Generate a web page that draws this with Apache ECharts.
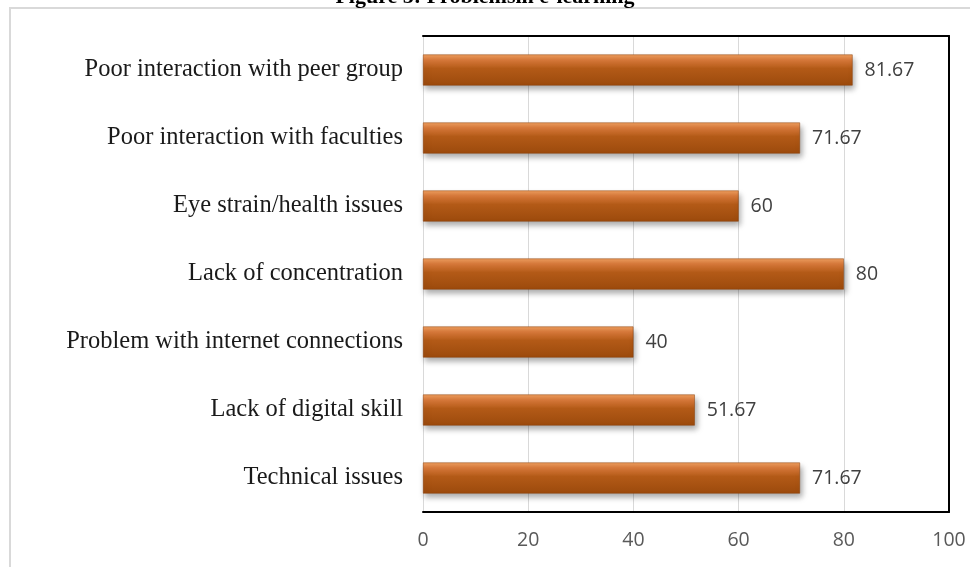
<!DOCTYPE html>
<html>
<head>
<meta charset="utf-8">
<script src="https://cdn.jsdelivr.net/npm/echarts@6/dist/echarts.min.js"></script>
<style>
  html, body { margin: 0; padding: 0; background: #fff; }
  #chart { width: 970px; height: 567px; }
</style>
</head>
<body>
<div id="chart"></div>
<script>
// Problems reported in e-learning (percent of respondents)
const categories = [
  'Poor interaction with peer group',
  'Poor interaction with faculties',
  'Eye strain/health issues',
  'Lack of concentration',
  'Problem with internet connections',
  'Lack of digital skill',
  'Technical issues'
];
const values = [81.67, 71.67, 60, 80, 40, 51.67, 71.67];
const titleText = 'Figure 5: Problemsin e-learning';

const chart = echarts.init(document.getElementById('chart'));

const barFill = new echarts.graphic.LinearGradient(0, 0, 0, 1, [
  { offset: 0, color: '#f0a060' },
  { offset: 0.18, color: '#d9793a' },
  { offset: 0.45, color: '#b35a17' },
  { offset: 1, color: '#9c4a0c' }
]);

chart.setOption({
  animation: false,
  title: {
    text: titleText,
    left: 'center',
    top: -19,
    textStyle: {
      fontFamily: 'Liberation Serif',
      fontSize: 22,
      fontWeight: 'bold',
      color: '#000'
    }
  },
  graphic: [{
    type: 'rect',
    shape: { x: 10, y: 8, width: 1000, height: 600 },
    style: { fill: 'none', stroke: '#d9d9d9', lineWidth: 2 },
    z: -1
  }],
  grid: { left: 423, right: 21, top: 36, bottom: 55 },
  xAxis: [{
    type: 'value',
    min: 0,
    max: 100,
    interval: 20,
    position: 'bottom',
    axisLine: { show: true, lineStyle: { color: '#000', width: 2 } },
    axisTick: { show: false },
    axisLabel: {
      margin: 18,
      color: '#595959',
      fontFamily: 'Open Sans',
      fontSize: 19.5
    },
    splitLine: { show: true, lineStyle: { color: '#d9d9d9', width: 1 } }
  }, {
    type: 'value',
    min: 0,
    max: 100,
    position: 'top',
    axisLine: { show: true, onZero: false, lineStyle: { color: '#000', width: 2 } },
    axisTick: { show: false },
    axisLabel: { show: false },
    splitLine: { show: false }
  }],
  yAxis: [{
    type: 'category',
    data: categories,
    inverse: true,
    position: 'left',
    axisLine: { show: false },
    axisTick: { show: false },
    axisLabel: {
      margin: 20,
      color: '#1a1a1a',
      fontFamily: 'Liberation Serif',
      fontSize: 24.5
    }
  }, {
    type: 'category',
    data: categories,
    inverse: true,
    position: 'right',
    axisLine: { show: true, onZero: false, lineStyle: { color: '#000', width: 2 } },
    axisTick: { show: false },
    axisLabel: { show: false }
  }],
  series: [{
    type: 'bar',
    data: values,
    barWidth: 31,
    itemStyle: {
      color: barFill,
      borderColor: '#8a3f08',
      borderWidth: 0.5,
      shadowColor: 'rgba(0,0,0,0.35)',
      shadowBlur: 6,
      shadowOffsetX: 2,
      shadowOffsetY: 4
    },
    label: {
      show: true,
      position: 'right',
      distance: 12,
      color: '#404040',
      fontFamily: 'Open Sans',
      fontSize: 19.5
    }
  }]
});
</script>
</body>
</html>
